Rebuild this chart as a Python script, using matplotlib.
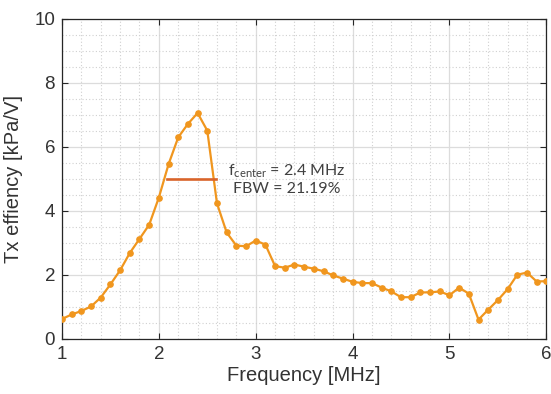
import matplotlib
matplotlib.use("Agg")
import matplotlib.pyplot as plt
from matplotlib.ticker import MultipleLocator

# transmit efficiency sweep, 0.1 MHz steps
freq_mhz = [1.0, 1.1, 1.2, 1.3, 1.4, 1.5, 1.6, 1.7, 1.8, 1.9,
            2.0, 2.1, 2.2, 2.3, 2.4, 2.5, 2.6, 2.7, 2.8, 2.9,
            3.0, 3.1, 3.2, 3.3, 3.4, 3.5, 3.6, 3.7, 3.8, 3.9,
            4.0, 4.1, 4.2, 4.3, 4.4, 4.5, 4.6, 4.7, 4.8, 4.9,
            5.0, 5.1, 5.2, 5.3, 5.4, 5.5, 5.6, 5.7, 5.8, 5.9, 6.0]
tx_eff = [0.62, 0.76, 0.87, 1.01, 1.29, 1.70, 2.14, 2.68, 3.12, 3.56,
          4.41, 5.45, 6.29, 6.71, 7.05, 6.50, 4.23, 3.32, 2.91, 2.89,
          3.07, 2.94, 2.27, 2.22, 2.32, 2.25, 2.19, 2.11, 1.98, 1.88,
          1.78, 1.74, 1.74, 1.60, 1.48, 1.30, 1.30, 1.45, 1.45, 1.48,
          1.36, 1.60, 1.41, 0.60, 0.91, 1.21, 1.55, 2.00, 2.07, 1.79, 1.80]

# -3 dB bandwidth marker
bw_freq = [2.08, 2.585]
bw_level = [4.98, 4.98]

ann_lines = [r"f$_{\mathrm{center}}$ = 2.4 MHz", "FBW = 21.19%"]

plt.rcParams["font.family"] = ["Liberation Sans", "DejaVu Sans"]
plt.rcParams["mathtext.fontset"] = "custom"
plt.rcParams["mathtext.rm"] = "Lato"

fig = plt.figure(figsize=(5.51, 3.94), dpi=100)
ax = fig.add_axes([0.1125, 0.140, 0.879, 0.813])

orange = "#F0961E"
ax.plot(freq_mhz, tx_eff, color=orange, lw=1.6, marker="o", ms=3.8,
        zorder=3)
ax.plot(bw_freq, bw_level, color="#D9642A", lw=1.9, zorder=4)

ax.text(2.715, 5.12, ann_lines[0], fontsize=11.5, color="#404040",
        family="Lato", va="baseline")
ax.text(2.765, 4.56, ann_lines[1], fontsize=11.5, color="#404040",
        family="Lato", va="baseline")

ax.set_xlim(1, 6)
ax.set_ylim(0, 10)
ax.xaxis.set_major_locator(MultipleLocator(1))
ax.xaxis.set_minor_locator(MultipleLocator(0.2))
ax.yaxis.set_major_locator(MultipleLocator(2))
ax.yaxis.set_minor_locator(MultipleLocator(0.5))

ax.grid(which="major", color="#DCDCDC", lw=0.9, ls="-")
ax.grid(which="minor", color="#D0D0D0", lw=0.8, ls=(0, (1, 2)))
ax.set_axisbelow(True)

ax.tick_params(which="major", direction="in", length=4, width=0.8,
               top=True, right=True, labelsize=13.5, colors="#262626",
               labelcolor="#333333", pad=5)
ax.tick_params(which="minor", length=0)
for sp in ax.spines.values():
    sp.set_color("#262626")
    sp.set_linewidth(0.9)

ax.set_xlabel("Frequency [MHz]", fontsize=14.5, color="#333333", labelpad=2)
ax.set_ylabel("Tx effiency [kPa/V]", fontsize=14.5, color="#333333",
              labelpad=8)

fig.savefig("out.png", dpi=100)
